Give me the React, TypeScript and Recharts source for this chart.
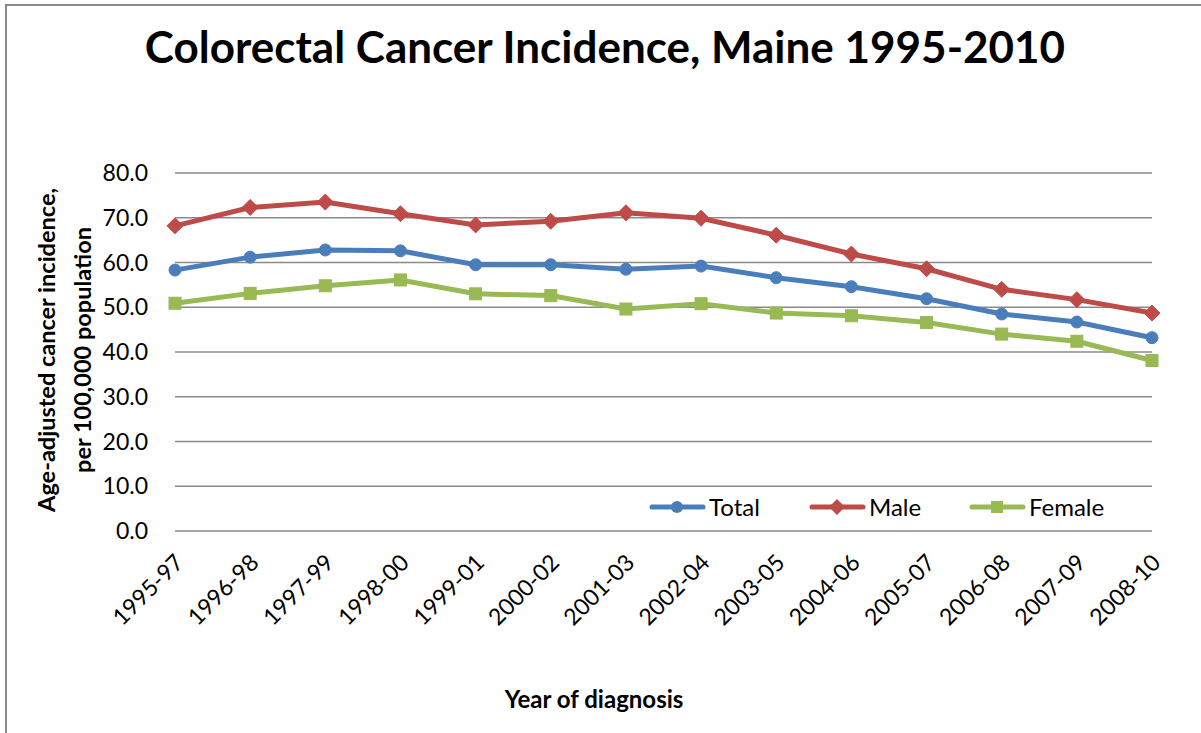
import React from 'react';
import { LineChart, Line, XAxis, YAxis, CartesianGrid } from 'recharts';

const periods = ['1995-97','1996-98','1997-99','1998-00','1999-01','2000-02','2001-03','2002-04','2003-05','2004-06','2005-07','2006-08','2007-09','2008-10'];
const totalValues = [58.3, 61.2, 62.8, 62.6, 59.5, 59.5, 58.5, 59.2, 56.6, 54.6, 51.9, 48.5, 46.7, 43.2];
const maleValues = [68.2, 72.3, 73.5, 70.9, 68.4, 69.2, 71.1, 69.9, 66.1, 61.9, 58.6, 54.0, 51.7, 48.7];
const femaleValues = [50.9, 53.1, 54.8, 56.1, 53.0, 52.6, 49.6, 50.8, 48.7, 48.1, 46.6, 44.0, 42.4, 38.1];
const yTicks = [0, 10, 20, 30, 40, 50, 60, 70, 80];
const seriesNames = ['Total', 'Male', 'Female'];

const data = periods.map((p, i) => ({ period: p, Total: totalValues[i], Male: maleValues[i], Female: femaleValues[i] }));

const FONT = 'Lato, "Open Sans", sans-serif';
const BLUE = '#4a7ebb';
const RED = '#be4b48';
const GREEN = '#98b954';
const colors: Record<string, string> = { Total: BLUE, Male: RED, Female: GREEN };

const CircleDot = (props: any) => {
  const { cx, cy } = props;
  if (cx == null || cy == null) return null;
  return <circle key={props.index} cx={cx} cy={cy} r={6} fill={BLUE} stroke={BLUE} strokeWidth={1} />;
};
const DiamondDot = (props: any) => {
  const { cx, cy } = props;
  if (cx == null || cy == null) return null;
  const s = 8;
  return <path key={props.index} d={`M${cx},${cy - s}L${cx + s},${cy}L${cx},${cy + s}L${cx - s},${cy}Z`} fill={RED} stroke={RED} />;
};
const SquareDot = (props: any) => {
  const { cx, cy } = props;
  if (cx == null || cy == null) return null;
  const s = 6;
  return <rect key={props.index} x={cx - s} y={cy - s} width={2 * s} height={2 * s} fill={GREEN} stroke={GREEN} />;
};

const XTick = (props: any) => {
  const { x, y, payload } = props;
  return (
    <g transform={`translate(${x + 10},${y + 25}) rotate(-45)`}>
      <text x={0} y={0} textAnchor="end" fontFamily={FONT} fontSize={23} fill="#000">{payload.value}</text>
    </g>
  );
};

const YTick = (props: any) => {
  const { y, payload } = props;
  return (
    <text x={148} y={y + 8} textAnchor="end" fontFamily={FONT} fontSize={23} fill="#000">{Number(payload.value).toFixed(1)}</text>
  );
};

const markers: Record<string, (c: string) => React.ReactNode> = {
  Total: (c) => <circle cx={28} cy={12} r={6} fill={c} />,
  Male: (c) => <path d="M28,4L36,12L28,20L20,12Z" fill={c} />,
  Female: (c) => <rect x={22} y={6} width={12} height={12} fill={c} />,
};

const legendLefts = [649, 809, 969];

export default function App() {
  return (
    <div style={{ position: 'absolute', left: 0, top: 0, width: 1201, height: 733, background: '#fff', overflow: 'hidden' }}>
      <div style={{ position: 'absolute', left: 5, top: 4, width: 1300, height: 900, borderLeft: '2px solid #8a8a8a', borderTop: '2px solid #8a8a8a' }} />
      <div style={{ position: 'absolute', left: 0, top: 20, width: 1210, textAlign: 'center', fontFamily: FONT, fontWeight: 700, fontSize: 44, color: '#000' }}>
        Colorectal Cancer Incidence, Maine 1995-2010
      </div>
      <div style={{ position: 'absolute', left: 0, top: 684, width: 1188, textAlign: 'center', fontFamily: FONT, fontWeight: 700, fontSize: 24, color: '#000' }}>
        Year of diagnosis
      </div>
      <svg style={{ position: 'absolute', left: 0, top: 0 }} width={130} height={733}>
        <text transform="translate(55,350) rotate(-90)" textAnchor="middle" fontFamily={FONT} fontWeight={700} fontSize={23.5} fill="#000">Age-adjusted cancer incidence,</text>
        <text transform="translate(91,350) rotate(-90)" textAnchor="middle" fontFamily={FONT} fontWeight={700} fontSize={23.5} fill="#000">per 100,000 population</text>
      </svg>
      <div style={{ position: 'absolute', left: 0, top: 0 }}>
        <LineChart width={1201} height={733} data={data} margin={{ top: 173, right: 49, bottom: 122, left: 0 }}>
          <CartesianGrid vertical={false} stroke="#8a8a8a" strokeWidth={1.5} />
          <XAxis dataKey="period" axisLine={false} tickLine={false} height={80} tick={<XTick />} interval={0} />
          <YAxis domain={[0, 80]} ticks={yTicks} axisLine={false} tickLine={false} width={175} tick={<YTick />} interval={0} />
          <Line dataKey="Total" stroke={BLUE} strokeWidth={5} dot={<CircleDot />} isAnimationActive={false} />
          <Line dataKey="Male" stroke={RED} strokeWidth={5} dot={<DiamondDot />} isAnimationActive={false} />
          <Line dataKey="Female" stroke={GREEN} strokeWidth={5} dot={<SquareDot />} isAnimationActive={false} />
        </LineChart>
      </div>
      {seriesNames.map((name, i) => (
        <div key={name} style={{ position: 'absolute', left: legendLefts[i], top: 492, display: 'flex', alignItems: 'center' }}>
          <svg width={58} height={24}>
            <line x1={3} y1={12} x2={54} y2={12} stroke={colors[name]} strokeWidth={5} strokeLinecap="round" />
            {markers[name](colors[name])}
          </svg>
          <span style={{ fontFamily: FONT, fontSize: 24, color: '#000', marginLeft: 2 }}>{name}</span>
        </div>
      ))}
    </div>
  );
}
